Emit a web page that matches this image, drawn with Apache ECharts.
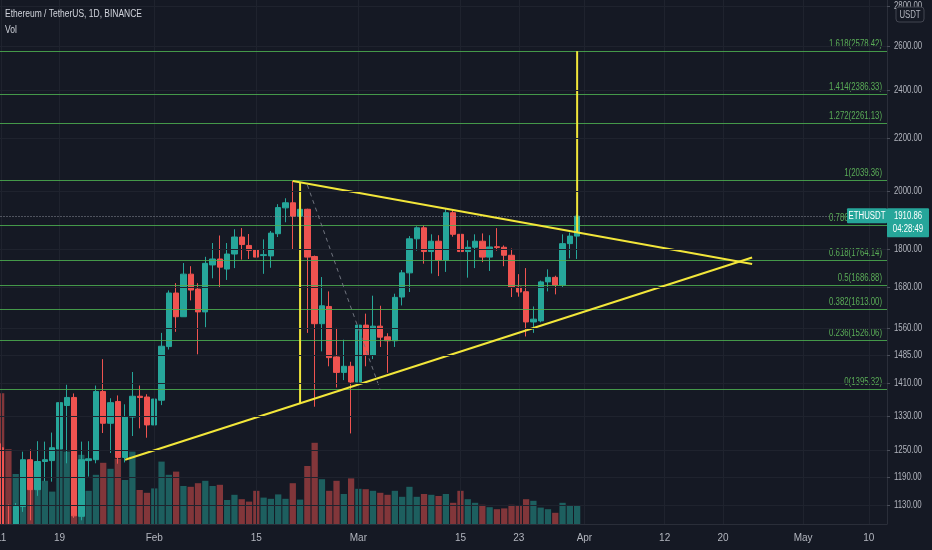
<!DOCTYPE html>
<html><head><meta charset="utf-8">
<script src="https://cdn.jsdelivr.net/npm/echarts@6/dist/echarts.min.js"></script>
<style>html,body{margin:0;padding:0;background:#151924;}#c{width:932px;height:550px;}</style>
</head><body><div id="c"></div>
<script>
const FONT = '"Liberation Sans",sans-serif';
const startDay = [2021, 0, 11];
const dayCount = 122;

const open = [1255,1087,1049,1128,1228,1163,1224,1226,1252,1355,1375,1108,1226,1228,1390,1312,1365,1233,1327,1378,1376,
  1308,1368,1508,1662,1592,1720,1674,1606,1749,1768,1736,1784,1840,1812,1797,1779,1778,1851,1940,1958,1911,1935,1776,1572,1622,1480,1439,1455,
  1414,1568,1484,1565,1535,1524,1650,1724,1834,1871,1792,1826,1764,1923,1849,1792,1806,1826,1774,1808,1806,1780,1680,1666,1577,1580,1696,1710,1686,1818,1843];
const high = [1265,1132,1135,1246,1251,1270,1269,1290,1434,1407,1385,1269,1270,1405,1474,1373,1380,1358,1440,1405,1383,
  1375,1546,1670,1692,1755,1745,1692,1775,1820,1845,1820,1866,1870,1850,1840,1832,1860,1953,1974,2038,1990,1937,1779,1711,1667,1560,1527,1467,
  1571,1601,1654,1624,1545,1660,1733,1843,1876,1880,1849,1846,1936,1932,1890,1829,1849,1852,1846,1870,1812,1802,1720,1739,1622,1700,1735,1715,1849,1855,1918];
const low = [1000,1028,1013,1117,1100,1150,1181,1180,1248,1220,1105,1100,1191,1220,1289,1243,1219,1222,1282,1300,1278,
  1290,1356,1500,1549,1592,1640,1487,1562,1707,1678,1702,1739,1766,1768,1652,1721,1740,1840,1890,1800,1905,1546,1352,1495,1455,1400,1419,1288,
  1408,1455,1474,1507,1438,1507,1625,1665,1795,1753,1722,1714,1727,1841,1727,1709,1739,1758,1730,1795,1745,1650,1651,1536,1546,1576,1667,1658,1680,1770,1768];
const close = [1087,1049,1128,1228,1163,1224,1228,1255,1362,1375,1109,1228,1230,1390,1312,1362,1233,1327,1378,1375,1308,
  1371,1509,1662,1592,1720,1671,1606,1754,1768,1742,1784,1840,1815,1796,1774,1782,1853,1941,1958,1911,1935,1774,1572,1624,1478,1439,1455,1414,
  1568,1484,1565,1534,1524,1649,1724,1834,1871,1792,1826,1764,1923,1849,1792,1806,1826,1774,1807,1805,1780,1680,1665,1577,1585,1696,1710,1686,1818,1843,1910.86];
const volume = [3270,1870,1250,1380,1350,1080,1080,810,1850,1810,2100,1730,830,1230,1530,1380,1630,1100,1810,850,780,
  890,1560,1230,1310,950,930,1020,1080,950,980,600,730,620,560,830,660,630,740,630,1020,610,1450,2030,1120,830,1080,750,1140,
  880,870,830,780,730,830,680,930,680,750,730,700,750,530,830,620,530,480,420,370,390,480,460,620,580,410,370,280,530,460,460];

const priceTicks = [1130,1190,1250,1330,1410,1485,1560,1680,1800,2000,2200,2400,2600,2800];
const xTickDates = ['2021-01-11','2021-01-19','2021-02-01','2021-02-15','2021-03-01','2021-03-15','2021-03-23','2021-04-01','2021-04-12','2021-04-20','2021-05-01','2021-05-10'];
const monthNames = ['Jan','Feb','Mar','Apr','May','Jun'];

const fibLevels = [0,0.236,0.382,0.5,0.618,0.786,1,1.272,1.414,1.618];
const fibPrices = [1395.32,1526.06,1613.00,1686.88,1764.14,1880.29,2039.36,2261.13,2386.33,2578.42];

const lastPrice = 1910.86;
const symbolName = 'ETHUSDT';
const countdown = '04:28:49';
const titleText = 'Ethereum / TetherUS, 1D, BINANCE';

const triangleUpper = [['2021-02-20',2037],['2021-04-24',1752]];
const triangleLower = [['2021-01-28',1228],['2021-04-24',1773]];
const heightLine = [['2021-02-21',2033],['2021-02-21',1360]];
const targetLine = [['2021-03-31',1857],['2021-03-31',2578.42]];
const dashLine = [['2021-02-22',2022],['2021-03-04',1394]];

const dates = [];
for (let i = 0; i < dayCount; i++) {
  dates.push(new Date(Date.UTC(startDay[0], startDay[1], startDay[2] + i)).toISOString().slice(0, 10));
}
const candles = open.map((o, i) => [o, close[i], low[i], high[i]]);
const UP = '#26a69a', DOWN = '#ef5350';
const volData = volume.map((v, i) => ({
  value: v,
  itemStyle: { color: close[i] >= open[i] ? 'rgba(38,166,154,0.5)' : 'rgba(239,83,80,0.5)' }
}));

// the UI font of the original is a narrow face; squeeze text horizontally
const SQ = 0.78;
const mc = document.createElement('canvas').getContext('2d');
mc.font = '10.5px ' + FONT;
const titleScale = 137 / mc.measureText(titleText).width;

const PLOT_RIGHT = 887;
const chart = echarts.init(document.getElementById('c'), null, { renderer: 'canvas' });
const yellow = '#f2e63a';
function seg(data, color, type, width) {
  return { type: 'line', xAxisIndex: 0, yAxisIndex: 0, data: data, symbol: 'none', silent: true, z: 8,
    lineStyle: { color: color, width: width, type: type }, animation: false };
}
chart.setOption({
  backgroundColor: '#151924',
  animation: false,
  grid: [
    { left: -2.5, right: 932 - PLOT_RIGHT, top: 0, bottom: 26, containLabel: false, outerBoundsMode: 'none' },
    { left: -2.5, right: 932 - PLOT_RIGHT, top: 300, bottom: 26, containLabel: false, outerBoundsMode: 'none' }
  ],
  xAxis: [
    { type: 'category', gridIndex: 0, data: dates, boundaryGap: true,
      axisLine: { show: false }, axisTick: { show: false }, axisLabel: { show: false }, splitLine: { show: false } },
    { type: 'category', gridIndex: 1, data: dates, boundaryGap: true, z: 30,
      axisLine: { show: true, lineStyle: { color: '#2a2e39' } }, axisTick: { show: false },
      axisLabel: { interval: (i, v) => xTickDates.includes(v), alignMinLabel: 'center',
        formatter: v => { const d = +v.slice(8); return d === 1 ? monthNames[+v.slice(5, 7) - 1] : String(d); },
        color: '#b2b5be', margin: 9, fontSize: 10, fontFamily: FONT },
      splitLine: { show: false } }
  ],
  yAxis: [
    { type: 'log', logBase: 10, gridIndex: 0, position: 'right', min: 1092.7, max: 2829.5, z: 30,
      axisLine: { show: true, lineStyle: { color: '#2a2e39' } },
      axisTick: { show: true, length: 3, customValues: priceTicks, lineStyle: { color: '#4a4e59' } },
      axisLabel: { show: false },
      splitLine: { show: true, lineStyle: { color: '#1f232e' } } },
    { type: 'value', gridIndex: 1, min: 0, max: 5600, show: false, splitLine: { show: false } }
  ],
  series: [
    { type: 'line', xAxisIndex: 0, yAxisIndex: 0, data: [], silent: true, z: 0,
      markLine: { symbol: ['none', 'none'], silent: true, animation: false, label: { show: false },
        lineStyle: { color: '#1f232e', width: 1, type: 'solid' },
        data: xTickDates.map(d => ({ xAxis: d })) } },
    { type: 'bar', xAxisIndex: 1, yAxisIndex: 1, data: volData, barWidth: '86%', z: 1, silent: true },
    { type: 'candlestick', xAxisIndex: 0, yAxisIndex: 0, data: candles, barWidth: '80%', clip: true, z: 3, silent: true,
      itemStyle: { color: UP, color0: DOWN, borderColor: UP, borderColor0: DOWN, borderWidth: 1 } },
    { type: 'line', xAxisIndex: 0, yAxisIndex: 0, data: [], silent: true, z: 5,
      markLine: { symbol: ['none', 'none'], silent: true, animation: false, label: { show: false },
        lineStyle: { color: '#4caf50', width: 1, type: 'solid', opacity: 0.85 },
        data: fibPrices.map(p => ({ yAxis: p })) } },
    seg(triangleUpper, yellow, 'solid', 2),
    seg(triangleLower, yellow, 'solid', 2),
    seg(heightLine, yellow, 'solid', 2),
    seg(targetLine, yellow, 'solid', 2),
    seg(dashLine, '#6f737e', [4, 4], 1),
    { type: 'line', xAxisIndex: 0, yAxisIndex: 0, data: [], silent: true, z: 10,
      markLine: { symbol: ['none', 'none'], silent: true, animation: false, label: { show: false },
        data: [{ yAxis: lastPrice, lineStyle: { color: '#8a8e99', type: [1, 2], width: 1 } }] } }
  ]
});

// text overlays placed through the price scale
const yPix = v => chart.convertToPixel({ yAxisIndex: 0 }, v);
const txt = (x, y, text, fill, align, vAlign, z, scale) => ({
  type: 'text', x: x, y: y, scaleX: scale || SQ, z: z, silent: true,
  style: { text: text, fill: fill, font: '10px ' + FONT, align: align, verticalAlign: vAlign }
});
const G = [];
G.push({ type: 'rect', x: 0, y: 525, z: 25, silent: true, shape: { width: PLOT_RIGHT, height: 25 }, style: { fill: '#151924' } });
priceTicks.forEach(v => G.push(txt(PLOT_RIGHT + 7, yPix(v), v.toFixed(2), '#b2b5be', 'left', 'middle', 30)));
fibPrices.forEach((p, i) => G.push(txt(PLOT_RIGHT - 5, yPix(p) - 2, fibLevels[i] + '(' + p.toFixed(2) + ')', '#5aac57', 'right', 'bottom', 6)));
const py = yPix(lastPrice);
G.push({ type: 'rect', x: PLOT_RIGHT - 40, y: py - 8, z: 40, silent: true, shape: { width: 40, height: 15, r: 1 }, style: { fill: UP } });
G.push(txt(PLOT_RIGHT - 20, py, symbolName, '#ffffff', 'center', 'middle', 41));
G.push({ type: 'rect', x: PLOT_RIGHT, y: py - 8, z: 40, silent: true, shape: { width: 42, height: 29, r: 1 }, style: { fill: UP } });
G.push(txt(PLOT_RIGHT + 21, py, lastPrice.toFixed(2), '#ffffff', 'center', 'middle', 41));
G.push(txt(PLOT_RIGHT + 21, py + 13, countdown, '#ffffff', 'center', 'middle', 41));
G.push({ type: 'text', x: 5, y: 9, scaleX: titleScale, z: 40, silent: true, style: { text: titleText, fill: '#d1d4dc', font: '10.5px ' + FONT } });
G.push({ type: 'text', x: 5, y: 25, scaleX: titleScale, z: 40, silent: true, style: { text: 'Vol', fill: '#d1d4dc', font: '10.5px ' + FONT } });
G.push({ type: 'rect', x: 896, y: 7, z: 40, silent: true, shape: { width: 28, height: 15, r: 3 }, style: { fill: '#151924', stroke: '#434651', lineWidth: 1 } });
G.push(txt(910, 15, 'USDT', '#b2b5be', 'center', 'middle', 41));
chart.setOption({ graphic: { elements: G } });
</script></body></html>
